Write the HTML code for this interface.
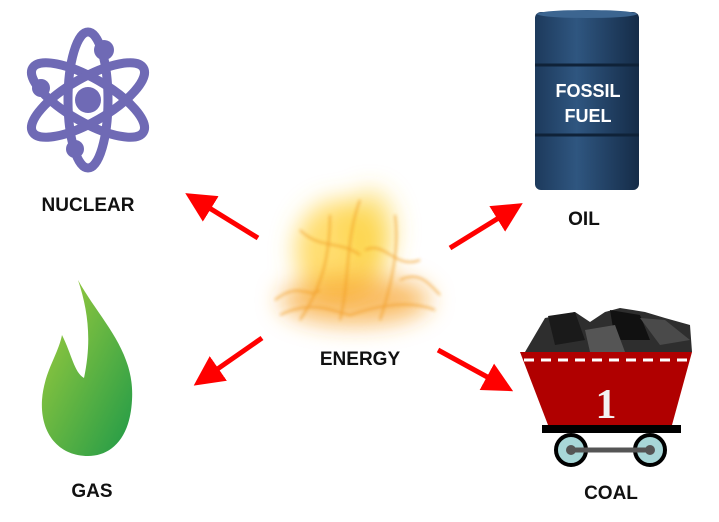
<!DOCTYPE html>
<html><head><meta charset="utf-8"><style>
html,body{margin:0;padding:0;background:#fff;}
svg{display:block;}
text{font-family:"Liberation Sans",sans-serif;font-weight:bold;}
</style></head><body>
<svg width="719" height="522" viewBox="0 0 719 522" xmlns="http://www.w3.org/2000/svg">
<defs>
<filter id="bl" x="-50%" y="-50%" width="200%" height="200%"><feGaussianBlur stdDeviation="12"/></filter>
<filter id="bl2"><feGaussianBlur stdDeviation="1.5"/></filter>
<linearGradient id="gg" x1="0" y1="0" x2="1" y2="1"><stop offset="0" stop-color="#a6cf3c"/><stop offset="1" stop-color="#1f9a48"/></linearGradient>
<linearGradient id="bg" x1="0" y1="0" x2="1" y2="0"><stop offset="0" stop-color="#1d3a5c"/><stop offset="0.4" stop-color="#2f5680"/><stop offset="1" stop-color="#152c48"/></linearGradient>
<marker id="ah" markerWidth="6" markerHeight="6" refX="3" refY="3" orient="auto" markerUnits="strokeWidth"><path d="M0,0 L6,3 L0,6 Z" fill="#f00"/></marker>
</defs>
<!-- atom -->
<g fill="none" stroke="#6f6ab5" stroke-width="9">
<ellipse cx="88" cy="100" rx="64" ry="22" transform="rotate(30 88 100)"/>
<ellipse cx="88" cy="100" rx="64" ry="22" transform="rotate(-30 88 100)"/>
<ellipse cx="88" cy="100" rx="20" ry="68"/>
</g>
<g fill="#6f6ab5"><circle cx="88" cy="100" r="13"/><circle cx="104" cy="50" r="10"/><circle cx="41" cy="88" r="9"/><circle cx="75" cy="149" r="9"/></g>
<text x="88" y="211" font-size="19" text-anchor="middle" fill="#111">NUCLEAR</text>
<!-- barrel -->
<rect x="535" y="12" width="104" height="178" rx="6" fill="url(#bg)"/>
<g stroke="#0f2238" stroke-width="3"><line x1="535" y1="65" x2="639" y2="65"/><line x1="535" y1="135" x2="639" y2="135"/></g>
<ellipse cx="587" cy="14" rx="50" ry="4" fill="#3c6590"/>
<text x="588" y="97" font-size="18" text-anchor="middle" fill="#fff" font-weight="normal">FOSSIL</text>
<text x="588" y="122" font-size="18" text-anchor="middle" fill="#fff" font-weight="normal">FUEL</text>
<text x="584" y="225" font-size="19" text-anchor="middle" fill="#111">OIL</text>
<!-- flame -->
<path d="M78,280 C100,320 135,350 132,400 C130,440 110,456 88,456 C60,456 40,435 42,400 C44,372 58,355 62,335 C72,355 74,372 84,378 C92,340 88,310 78,280 Z M115,340 C126,360 128,380 122,400 C118,390 112,380 108,372 C112,362 114,350 115,340Z" fill="url(#gg)"/>
<text x="92" y="497" font-size="19" text-anchor="middle" fill="#111">GAS</text>
<!-- fire -->
<g filter="url(#bl)">
<ellipse cx="340" cy="250" rx="45" ry="50" fill="#ffd54a" opacity="0.8"/>
<ellipse cx="355" cy="300" rx="75" ry="25" fill="#f7a22a" opacity="0.7"/>
<ellipse cx="370" cy="230" rx="25" ry="40" fill="#fcd23a" opacity="0.6"/>
</g>
<g fill="none" stroke="#f09a20" stroke-width="1.5" opacity="0.85" filter="url(#bl2)">
<path d="M300,320 C320,290 330,260 330,215"/><path d="M340,320 C350,280 345,240 360,200"/>
<path d="M380,320 C390,290 400,250 395,215"/><path d="M280,315 C310,300 330,310 350,315 C380,305 410,300 435,310"/>
<path d="M300,230 C320,250 340,240 360,255"/><path d="M400,280 C420,270 430,285 440,295"/>
<path d="M275,300 C300,280 310,300 320,290"/><path d="M365,250 C385,240 395,270 420,260"/>
</g>
<text x="360" y="365" font-size="19" text-anchor="middle" fill="#111" font-weight="normal">ENERGY</text>
<!-- arrows -->
<g stroke="#f00" stroke-width="5" marker-end="url(#ah)">
<line x1="258" y1="238" x2="198" y2="201"/>
<line x1="450" y1="248" x2="510" y2="211"/>
<line x1="262" y1="338" x2="206" y2="377"/>
<line x1="438" y1="350" x2="500" y2="384"/>
</g>
<!-- cart -->
<g>
<path d="M525,352 L545,318 L575,312 L590,322 L605,312 L620,308 L645,312 L665,318 L690,325 L692,352Z" fill="#2e2e2e"/>
<path d="M548,316 L575,312 L585,340 L555,345Z" fill="#1a1a1a"/>
<path d="M610,310 L640,315 L650,340 L615,340Z" fill="#111"/>
<path d="M640,318 L665,320 L690,340 L660,345Z" fill="#4a4a4a"/>
<path d="M585,330 L615,325 L625,352 L590,352Z" fill="#555"/>
</g>
<path d="M520,352 L692,352 L672,425 L548,425Z" fill="#b00000"/>
<line x1="524" y1="360" x2="688" y2="360" stroke="#fff" stroke-width="3" stroke-dasharray="10,7"/>
<text x="606" y="418" font-size="42" text-anchor="middle" fill="#f2f2f2" font-weight="normal" style="font-family:'Liberation Serif',serif">1</text>
<rect x="542" y="425" width="139" height="8" fill="#000"/>
<g stroke="#000" stroke-width="4" fill="#a8d7d8"><circle cx="571" cy="450" r="15"/><circle cx="650" cy="450" r="15"/></g>
<line x1="571" y1="450" x2="650" y2="450" stroke="#555" stroke-width="5" stroke-linecap="round"/>
<g fill="#555"><circle cx="571" cy="450" r="5"/><circle cx="650" cy="450" r="5"/></g>
<text x="611" y="499" font-size="19" text-anchor="middle" fill="#111" font-weight="normal">COAL</text>
</svg>
</body></html>
